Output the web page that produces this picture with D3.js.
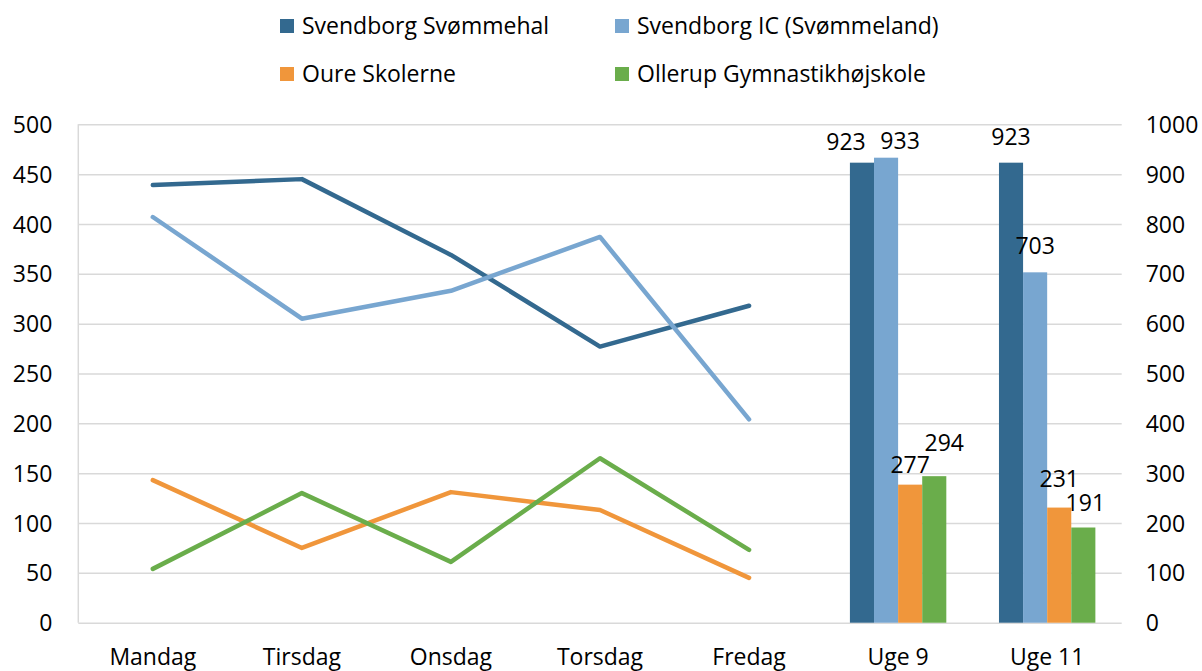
<!DOCTYPE html>
<html>
<head>
<meta charset="utf-8">
<script src="https://cdn.jsdelivr.net/npm/d3@7"></script>
<style>
  body { margin: 0; background: #fff; }
  svg { display: block; font-family: "Open Sans", sans-serif; }
  .tick text { fill: #000; font-size: 23px; font-family: "Open Sans", sans-serif; }
</style>
</head>
<body>
<svg width="1202" height="671"></svg>
<script>
var seriesNames = ["Svendborg Svømmehal", "Svendborg IC (Svømmeland)", "Oure Skolerne", "Ollerup Gymnastikhøjskole"];
var colors = ["#33698f", "#78a6d0", "#f0963b", "#6aad4b"];

var days = ["Mandag", "Tirsdag", "Onsdag", "Torsdag", "Fredag"];
var weeks = ["Uge 9", "Uge 11"];

// daily values (left axis)
var svommehalDays = [439, 445, 369, 277, 318];
var svommelandDays = [407, 305, 333, 387, 204];
var oureDays = [143, 75, 131, 113, 45];
var ollerupDays = [54, 130, 61, 165, 73];

// weekly totals (right axis)
var svommehalWeeks = [923, 923];
var svommelandWeeks = [933, 703];
var oureWeeks = [277, 231];
var ollerupWeeks = [294, 191];

var leftTicks = [0, 50, 100, 150, 200, 250, 300, 350, 400, 450, 500];
var rightTicks = [0, 100, 200, 300, 400, 500, 600, 700, 800, 900, 1000];

// hand placed label nudges, like in the original sheet
var labelDx = [[-16, 14, 0, 10], [0, 0, 0, 2]];
var labelGap = [[13, 9, 12, 25], [18, 18, 21, 17]];

var svg = d3.select("svg"),
    plotLeft = 78.3, plotRight = 1121.7, plotTop = 124.3, plotBottom = 622.7;

var lineData = [svommehalDays, svommelandDays, oureDays, ollerupDays];
var barData = [svommehalWeeks, svommelandWeeks, oureWeeks, ollerupWeeks];

var x = d3.scaleBand().domain(days.concat(weeks)).range([plotLeft, plotRight]);
var yL = d3.scaleLinear().domain([0, 500]).range([plotBottom, plotTop]);
var yR = d3.scaleLinear().domain([0, 1000]).range([plotBottom, plotTop]);
var inner = d3.scaleBand().domain(d3.range(4)).range([-48.2, 48.2]);

// grid + left labels
var gy = svg.append("g").attr("transform", "translate(" + plotLeft + ",0)")
  .call(d3.axisLeft(yL).tickValues(leftTicks).tickSize(-(plotRight - plotLeft)).tickPadding(26));
gy.select(".domain").remove();
gy.selectAll(".tick line").attr("stroke", "#d9d9d9").attr("stroke-width", 1.5);
gy.selectAll(".tick text").attr("dy", "0.35em");

svg.append("line").attr("x1", plotLeft).attr("x2", plotLeft).attr("y1", plotTop).attr("y2", plotBottom)
  .attr("stroke", "#d9d9d9").attr("stroke-width", 1.5);

var gr = svg.append("g").attr("transform", "translate(" + plotRight + ",0)")
  .call(d3.axisRight(yR).tickValues(rightTicks).tickFormat(d3.format("d")).tickSize(0).tickPadding(24));
gr.select(".domain").remove();
gr.selectAll(".tick text").attr("dy", "0.35em");

var gx = svg.append("g").attr("transform", "translate(0," + plotBottom + ")")
  .call(d3.axisBottom(x).tickSize(0).tickPadding(26));
gx.select(".domain").remove();
gx.selectAll(".tick text").attr("dy", "0.71em");

// bars
weeks.forEach(function (w, wi) {
  var g = svg.append("g").attr("transform", "translate(" + (x(w) + x.bandwidth() / 2) + ",0)");
  barData.forEach(function (vals, si) {
    g.append("rect")
      .attr("x", inner(si))
      .attr("width", inner.bandwidth())
      .attr("y", yR(vals[wi]))
      .attr("height", plotBottom - yR(vals[wi]))
      .attr("fill", colors[si]);
  });
  barData.forEach(function (vals, si) {
    g.append("text")
      .attr("x", inner(si) + inner.bandwidth() / 2 + labelDx[wi][si])
      .attr("y", yR(vals[wi]) - labelGap[wi][si])
      .attr("text-anchor", "middle")
      .attr("font-size", 23)
      .text(vals[wi]);
  });
});

// lines
var line = d3.line()
  .x(function (d, i) { return x(days[i]) + x.bandwidth() / 2; })
  .y(function (d) { return yL(d); });

lineData.forEach(function (vals, si) {
  svg.append("path").datum(vals)
    .attr("d", line)
    .attr("fill", "none")
    .attr("stroke", colors[si])
    .attr("stroke-width", 4.5)
    .attr("stroke-linecap", "round")
    .attr("stroke-linejoin", "round");
});

// legend
var legendPos = [[280, 26], [615, 26], [280, 74], [615, 74]];
var lg = svg.append("g").selectAll("g").data(seriesNames).enter().append("g")
  .attr("transform", function (d, i) { return "translate(" + legendPos[i][0] + "," + legendPos[i][1] + ")"; });
lg.append("rect").attr("x", 0).attr("y", -7).attr("width", 14).attr("height", 14)
  .attr("fill", function (d, i) { return colors[i]; });
lg.append("text").attr("x", 22).attr("dy", "0.35em").attr("font-size", 23)
  .text(function (d) { return d; });
</script>
</body>
</html>
